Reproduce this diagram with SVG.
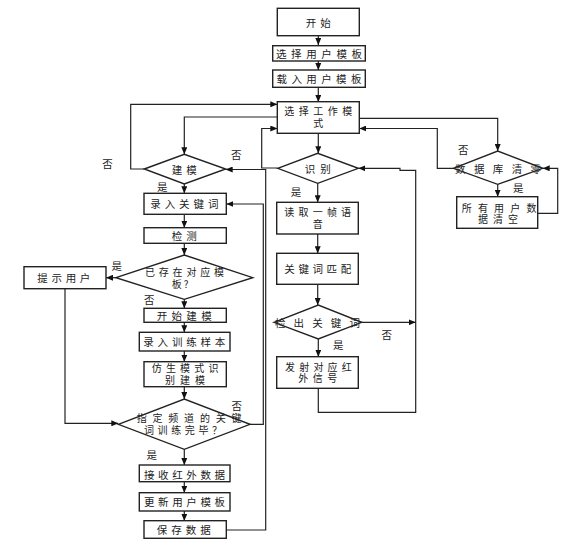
<svg xmlns="http://www.w3.org/2000/svg" width="570" height="547" viewBox="0 0 570 547">
<style>
.n rect,.n polygon{fill:#fff;stroke:#222;stroke-width:1.4}
.n text,.lb{font-family:"Noto Sans CJK SC","Noto Sans",sans-serif;font-size:10.5px;fill:#222;dominant-baseline:central}
.n text.s{font-size:10px}
.c{text-anchor:middle}
.lb{text-anchor:middle;font-size:10.5px}
#connectors path{fill:none;stroke:#222;stroke-width:1.2}
</style>
<defs>
<marker id="ah" markerUnits="userSpaceOnUse" markerWidth="7" markerHeight="6" refX="7" refY="3" orient="auto">
<path d="M0,0 L7,3 L0,6 Z" fill="#111"/>
</marker>
</defs>
<rect width="570" height="547" fill="#fff"/>
<g id="connectors">
<path d="M318.3,36 V45" marker-end="url(#ah)"/>
<path d="M318.3,61 V70" marker-end="url(#ah)"/>
<path d="M318.3,87 V102" marker-end="url(#ah)"/>
<path d="M318.3,133 V153.3" marker-end="url(#ah)"/>
<path d="M277.3,117 H184.3 V154.3" marker-end="url(#ah)"/>
<path d="M144.3,169 H130.7 V104.3 H277.3" marker-end="url(#ah)"/>
<path d="M277.7,168 H261.7 V128.5 H277.3" marker-end="url(#ah)"/>
<path d="M226.3,530 H265.7 V169.5 H225.7" marker-end="url(#ah)"/>
<path d="M359.3,118.3 H497.7 V151" marker-end="url(#ah)"/>
<path d="M453.3,168.3 H437.3 V128.5 H359.3" marker-end="url(#ah)"/>
<path d="M497.7,184.3 V196.7" marker-end="url(#ah)"/>
<path d="M537.7,213.3 H557.7 V168.3 H542.7" marker-end="url(#ah)"/>
<path d="M184.3,184 V193.3" marker-end="url(#ah)"/>
<path d="M184.3,214.3 V227.7" marker-end="url(#ah)"/>
<path d="M184.3,243.3 V255" marker-end="url(#ah)"/>
<path d="M116,277.7 H106" marker-end="url(#ah)"/>
<path d="M184.3,299.3 V308.3" marker-end="url(#ah)"/>
<path d="M184.3,322.3 V332.3" marker-end="url(#ah)"/>
<path d="M184.3,351 V361.7" marker-end="url(#ah)"/>
<path d="M184.3,386.7 V399" marker-end="url(#ah)"/>
<path d="M65,288.7 V423.3 H118.3" marker-end="url(#ah)"/>
<path d="M250,424.3 H263.3 V204 H226.3" marker-end="url(#ah)"/>
<path d="M184.3,449.3 V465" marker-end="url(#ah)"/>
<path d="M184.3,481.7 V492.7" marker-end="url(#ah)"/>
<path d="M184.3,511 V520.7" marker-end="url(#ah)"/>
<path d="M317.7,183.3 V202.3" marker-end="url(#ah)"/>
<path d="M317.7,234 V253.3" marker-end="url(#ah)"/>
<path d="M317.7,284.3 V305" marker-end="url(#ah)"/>
<path d="M318.3,339 V356.7" marker-end="url(#ah)"/>
<path d="M361.7,322.3 H415.7" marker-end="url(#ah)"/>
<path d="M318.3,388.3 V412.3 H415.7 V170.3 H400 V168.3 H358.3" marker-end="url(#ah)"/>
</g>
<g id="start" class="n"><rect x="277.3" y="8.3" width="82" height="27.4"/><text x="305.8" y="22" letter-spacing="4">开始</text></g>
<g id="selectTemplate" class="n"><rect x="272.7" y="45.7" width="92.6" height="15.3"/><text x="276" y="53.5" letter-spacing="4.6">选择用户模板</text></g>
<g id="loadTemplate" class="n"><rect x="272.7" y="70" width="92.6" height="17.3"/><text x="276.5" y="78.7" letter-spacing="4.4">载入用户模板</text></g>
<g id="selectMode" class="n"><rect x="277.3" y="101.7" width="82" height="31.6"/><text class="s" x="284.3" y="110.7" letter-spacing="4.5">选择工作模</text><text class="s c" x="318.3" y="122.2">式</text></g>
<g id="buildModel" class="n"><polygon points="144.3,169 184.3,154.3 225.7,169 184.3,184"/><text x="171.8" y="169" letter-spacing="4">建模</text></g>
<g id="recognize" class="n"><polygon points="277.7,168.3 317.7,153.3 358.3,168.3 317.7,183.3"/><text x="304.7" y="168.3" letter-spacing="5">识别</text></g>
<g id="clearDb" class="n"><polygon points="453.3,168.3 497.7,151 542.7,168.3 497.7,184.3"/><text x="455" y="168.3" letter-spacing="8.4">数据库清零</text></g>
<g id="clearAll" class="n"><rect x="456.7" y="196.7" width="81" height="31.6"/><text class="s" x="461.7" y="207" letter-spacing="6.2">所有用户数</text><text class="s" x="478" y="218.8" letter-spacing="5">据清空</text></g>
<g id="inputKeyword" class="n"><rect x="144" y="193.3" width="82.3" height="21"/><text x="150.3" y="203.5" letter-spacing="3.9">录入关键词</text></g>
<g id="detect" class="n"><rect x="144" y="227.7" width="82.3" height="15.6"/><text x="171.8" y="235.5" letter-spacing="4">检测</text></g>
<g id="exists" class="n"><polygon points="116,277.7 184.3,255 252.7,277.7 184.3,299.3"/><text class="s" x="145" y="271.3" letter-spacing="3.8">已存在对应模</text><text class="s" x="171.7" y="283" letter-spacing="2">板?</text></g>
<g id="notify" class="n"><rect x="24" y="266.7" width="82" height="22"/><text x="37.3" y="277.7" letter-spacing="3.67">提示用户</text></g>
<g id="startBuild" class="n"><rect x="144" y="308.3" width="82.3" height="14"/><text x="156.7" y="315.3" letter-spacing="4.33">开始建模</text></g>
<g id="inputSamples" class="n"><rect x="139.3" y="332.3" width="90.7" height="18.7"/><text x="143.3" y="341.7" letter-spacing="3.8">录入训练样本</text></g>
<g id="bionic" class="n"><rect x="144" y="361.7" width="82.3" height="25"/><text class="s" x="151.7" y="367.5" letter-spacing="4.2">仿生模式识</text><text class="s" x="165" y="379.2" letter-spacing="5">别建模</text></g>
<g id="trainDone" class="n"><polygon points="118.3,424.3 184.3,399 250,424.3 184.3,449.3"/><text class="s" x="136.7" y="417.5" letter-spacing="5.8">指定频道的关键</text><text class="s" x="144" y="429.2" letter-spacing="3.6">词训练完毕？</text></g>
<g id="receiveIR" class="n"><rect x="139.3" y="465" width="90.7" height="16.7"/><text x="144" y="474.3" letter-spacing="3.6">接收红外数据</text></g>
<g id="updateTemplate" class="n"><rect x="139.3" y="492.7" width="90.7" height="18.3"/><text x="144" y="501.7" letter-spacing="3.6">更新用户模板</text></g>
<g id="saveData" class="n"><rect x="144" y="520.7" width="82.3" height="17.6"/><text x="156.7" y="529.3" letter-spacing="4">保存数据</text></g>
<g id="readFrame" class="n"><rect x="276.7" y="202.3" width="81.6" height="31.7"/><text class="s" x="284.3" y="211.5" letter-spacing="4.2">读取一帧语</text><text class="s c" x="317.7" y="223.2">音</text></g>
<g id="match" class="n"><rect x="276.7" y="253.3" width="81.6" height="31"/><text x="284.3" y="268.3" letter-spacing="3.6">关键词匹配</text></g>
<g id="detected" class="n"><polygon points="274,322.3 318.3,305 361.7,322.3 318.3,339"/><text x="275" y="322.3" letter-spacing="8.1">检出关键词</text></g>
<g id="sendIR" class="n"><rect x="276.7" y="356.7" width="81.6" height="31.6"/><text class="s" x="285" y="366.3" letter-spacing="4.2">发射对应红</text><text class="s" x="298.3" y="377.9" letter-spacing="4.5">外信号</text></g>
<g id="labels">
<text class="lb" x="107.5" y="163">否</text>
<text class="lb" x="236.3" y="154">否</text>
<text class="lb" x="162.3" y="186.7">是</text>
<text class="lb" x="296" y="191.7">是</text>
<text class="lb" x="463.3" y="149.3">否</text>
<text class="lb" x="518.3" y="187.7">是</text>
<text class="lb" x="116.7" y="265">是</text>
<text class="lb" x="149.3" y="299.3">否</text>
<text class="lb" x="236.7" y="405">否</text>
<text class="lb" x="151.7" y="454">是</text>
<text class="lb" x="338.3" y="344">是</text>
<text class="lb" x="386.7" y="334.3">否</text>
</g>
</svg>
